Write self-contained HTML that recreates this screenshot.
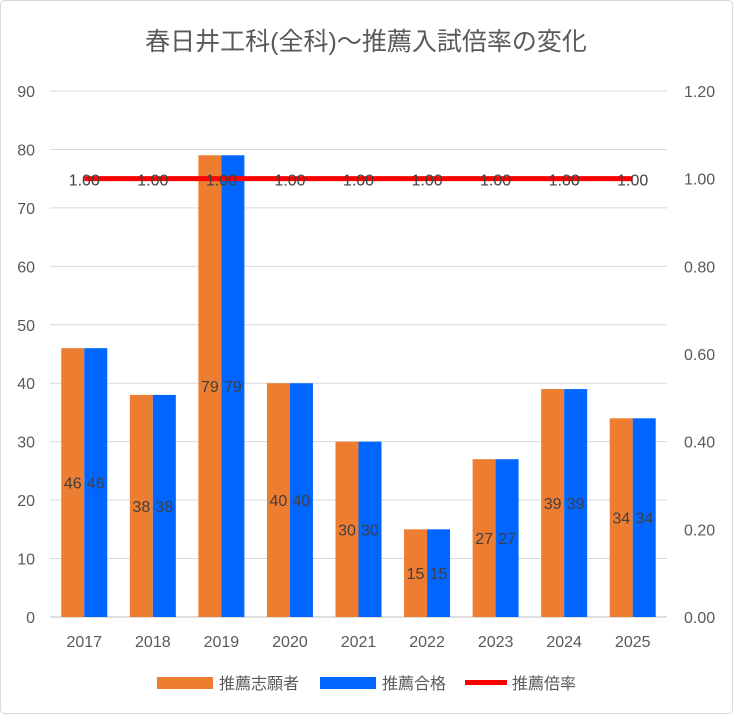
<!DOCTYPE html>
<html><head><meta charset="utf-8"><style>
body{margin:0;background:#fff}
svg text{font-family:"Liberation Sans","Noto Sans CJK JP",sans-serif}
</style></head><body>
<svg id="c" width="733" height="714" xmlns="http://www.w3.org/2000/svg">
<rect x="0.5" y="0.5" width="732" height="713" rx="4" fill="#fff" stroke="#d9d9d9"/>
<text x="366" y="50" text-anchor="middle" font-size="25" fill="#595959">春日井工科(全科)～推薦入試倍率の変化</text>
<g id="grid"></g><g id="bars"></g><g id="line"></g><g id="labels"></g><g id="axes"></g>
<g>
<rect x="157" y="677" width="56" height="12" fill="#ED7D31"/>
<text x="219" y="689" font-size="16" fill="#595959">推薦志願者</text>
<rect x="320" y="677" width="56" height="12" fill="#0066FF"/>
<text x="382" y="689" font-size="16" fill="#595959">推薦合格</text>
<rect x="465" y="680" width="42" height="5" fill="#FF0000"/>
<text x="512" y="689" font-size="16" fill="#595959">推薦倍率</text>
</g>
</svg>
<script>
const categories=["2017","2018","2019","2020","2021","2022","2023","2024","2025"];
const applicants=[46,38,79,40,30,15,27,39,34];
const passed=[46,38,79,40,30,15,27,39,34];
const ratio=[1,1,1,1,1,1,1,1,1];
const leftTicks=[0,10,20,30,40,50,60,70,80,90];
const rightTicks=["0.00","0.20","0.40","0.60","0.80","1.00","1.20"];
const NS="http://www.w3.org/2000/svg";
const L=50,R=667,T=91,B=617;
const y=v=>B-(v/90)*(B-T);
const y2=v=>B-(v/1.2)*(B-T);
const band=(R-L)/categories.length;
const xc=i=>L+band*(i+0.5);
const bw=23;
function mk(tag,at,parent,txt){const e=document.createElementNS(NS,tag);for(const k in at)e.setAttribute(k,at[k]);if(txt!==undefined)e.textContent=txt;document.getElementById(parent).appendChild(e);return e;}
leftTicks.forEach(t=>{
 const g=mk('line',{x1:L,x2:R,y1:y(t),y2:y(t),stroke:t===0?'#bfbfbf':'#d9d9d9','stroke-width':1},'grid');
 
 
 const tx=mk('text',{x:35,y:y(t)+6,'text-anchor':'end','font-size':16,fill:'#595959'},'axes',t);
 
 
});
rightTicks.forEach(t=>{
 const tx=mk('text',{x:684,y:y2(parseFloat(t))+6,'font-size':16,fill:'#595959'},'axes',t);
 
 
});
categories.forEach((c,i)=>{
 const tx=mk('text',{x:xc(i),y:647,'text-anchor':'middle','font-size':16,fill:'#595959'},'axes',c);
 
 
 const a=mk('rect',{x:xc(i)-bw,y:y(applicants[i]),width:bw,height:B-y(applicants[i]),fill:'#ED7D31'},'bars');
 
 
 const p=mk('rect',{x:xc(i),y:y(passed[i]),width:bw,height:B-y(passed[i]),fill:'#0066FF'},'bars');
 
 
 const la=mk('text',{x:xc(i)-bw/2,y:(y(applicants[i])+B)/2+6,'text-anchor':'middle','font-size':16,fill:'#404040'},'labels',applicants[i]);
 
 
 const lp=mk('text',{x:xc(i)+bw/2,y:(y(passed[i])+B)/2+6,'text-anchor':'middle','font-size':16,fill:'#404040'},'labels',passed[i]);
 
 
 const lr=mk('text',{x:xc(i),y:y2(ratio[i])+7,'text-anchor':'middle','font-size':16,fill:'#404040'},'labels',ratio[i].toFixed(2));
 
 
});
const pts=ratio.map((r,i)=>xc(i)+','+y2(r)).join(' ');
const pl=mk('polyline',{points:pts,fill:'none',stroke:'#FF0000','stroke-width':5},'line');


</script>
</body></html>
